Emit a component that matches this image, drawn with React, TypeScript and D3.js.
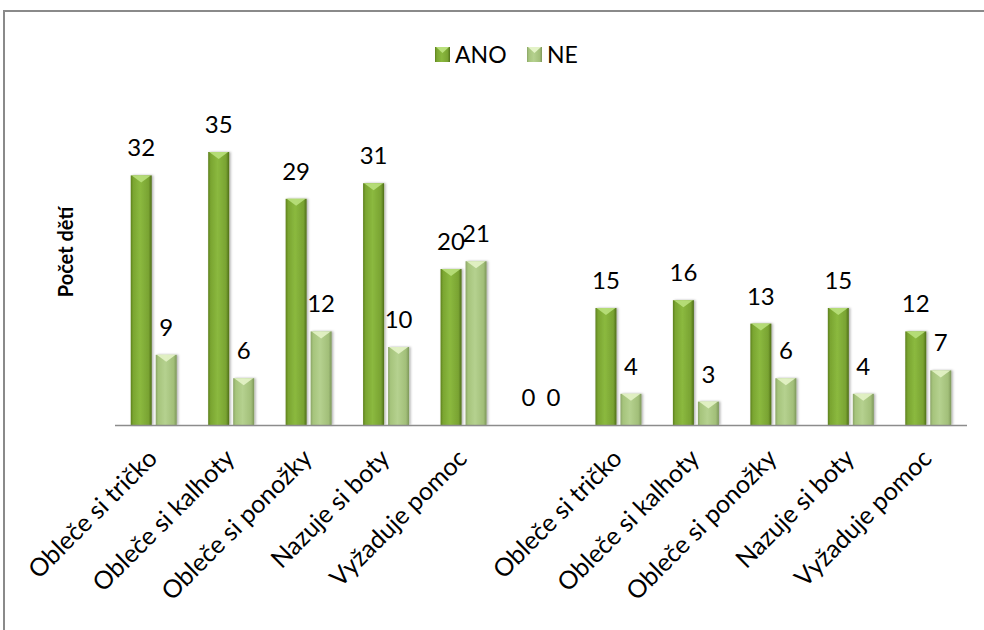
import React, { useEffect } from 'react'
import { scaleBand, scaleLinear } from 'd3'

const categories = [
  'Obleče si tričko', 'Obleče si kalhoty', 'Obleče si ponožky', 'Nazuje si boty', 'Vyžaduje pomoc',
  '',
  'Obleče si tričko', 'Obleče si kalhoty', 'Obleče si ponožky', 'Nazuje si boty', 'Vyžaduje pomoc',
]
const ano = [32, 35, 29, 31, 20, 0, 15, 16, 13, 15, 12]
const ne = [9, 6, 12, 10, 21, 0, 4, 3, 6, 4, 7]
const seriesNames = ['ANO', 'NE']
const yTitle = 'Počet dětí'

const W = 984
const H = 630
const FONT = 'Lato, "Open Sans", sans-serif'

const App = () => {
  useEffect(() => {
    document.body.style.margin = '0'
  }, [])

  const base = 425
  const x = scaleBand<number>()
    .domain(categories.map((_, i) => i))
    .range([115, 967])
  const y = scaleLinear().domain([0, 35]).range([base, 152])

  const barW = 21
  const gap = 4
  const series = [
    { name: seriesNames[0], values: ano, grad: 'gAno', tri: '#b9e07c' },
    { name: seriesNames[1], values: ne, grad: 'gNe', tri: '#e4f3c8' },
  ]

  const barX = (i: number, j: number) => {
    const c = (x(i) as number) + x.bandwidth() / 2
    return c - (barW * 2 + gap) / 2 + j * (barW + gap)
  }

  const bar = (cx: number, v: number, s: typeof series[0], key: string) => {
    const top = y(v)
    const h = base - top
    if (h <= 0) return null
    const tri = Math.min(7, h / 2)
    return (
      <g key={key} filter="url(#shadow)">
        <rect x={cx} y={top} width={barW} height={h} fill={`url(#${s.grad})`} />
        <path d={`M${cx + 1},${top}L${cx + barW - 1},${top}L${cx + barW / 2},${top + tri}Z`} fill={s.tri} opacity={0.9} />
      </g>
    )
  }

  return (
    <svg width={W} height={H} style={{ display: 'block' }} fontFamily={FONT}>
      <defs>
        <linearGradient id="gAno" x1="0" x2="1" y1="0" y2="0">
          <stop offset="0" stopColor="#5d801d" />
          <stop offset="0.12" stopColor="#7aa531" />
          <stop offset="0.45" stopColor="#8bb93f" />
          <stop offset="0.85" stopColor="#79a332" />
          <stop offset="1" stopColor="#4f6e18" />
        </linearGradient>
        <linearGradient id="gNe" x1="0" x2="1" y1="0" y2="0">
          <stop offset="0" stopColor="#8aa466" />
          <stop offset="0.12" stopColor="#a6c47c" />
          <stop offset="0.45" stopColor="#b5d18f" />
          <stop offset="0.85" stopColor="#a2bf79" />
          <stop offset="1" stopColor="#7d975a" />
        </linearGradient>
        <filter id="shadow" x="-30%" y="-10%" width="160%" height="120%">
          <feDropShadow dx="1.5" dy="0" stdDeviation="1.2" floodColor="#000" floodOpacity="0.3" />
        </filter>
      </defs>
      <rect x={0} y={0} width={W} height={H} fill="#fff" />
      <rect x={4} y={11} width={W + 10} height={H + 10} fill="none" stroke="#8a8a8a" strokeWidth={2} />

      {/* legend */}
      {series.map((s, i) => {
        const lx = i === 0 ? 435 : 527
        return (
          <g key={s.name}>
            <rect x={lx} y={47} width={15} height={15} fill={`url(#${s.grad})`} />
            <path d={`M${lx + 1},47L${lx + 14},47L${lx + 7.5},53Z`} fill={s.tri} />
            <text x={lx + 20} y={63} fontSize={23} fill="#000">{s.name}</text>
          </g>
        )
      })}

      {/* y title */}
      <text transform={`translate(73,252) rotate(-90)`} textAnchor="middle" fontSize={20} fontWeight="bold" fill="#000">
        {yTitle}
      </text>

      {/* bars */}
      {categories.map((_, i) => (
        <g key={i}>
          {series.map((s, j) => bar(barX(i, j), s.values[i], s, `${i}-${j}`))}
        </g>
      ))}

      {/* axis line */}
      <line x1={115} x2={967} y1={base + 0.5} y2={base + 0.5} stroke="#8c8c8c" strokeWidth={1.5} />

      {/* value labels */}
      {categories.map((_, i) =>
        series.map((s, j) => (
          <text key={`v${i}-${j}`} x={barX(i, j) + barW / 2} y={y(s.values[i]) - 19} textAnchor="middle" fontSize={24} fill="#000">
            {s.values[i]}
          </text>
        ))
      )}

      {/* category labels */}
      {categories.map((name, i) => {
        const c = (x(i) as number) + x.bandwidth() / 2
        return (
          <text key={`c${i}`} transform={`translate(${c + 5},${base + 35}) rotate(-45)`} textAnchor="end" fontSize={25} fill="#000">
            {name}
          </text>
        )
      })}
    </svg>
  )
}

export default App
